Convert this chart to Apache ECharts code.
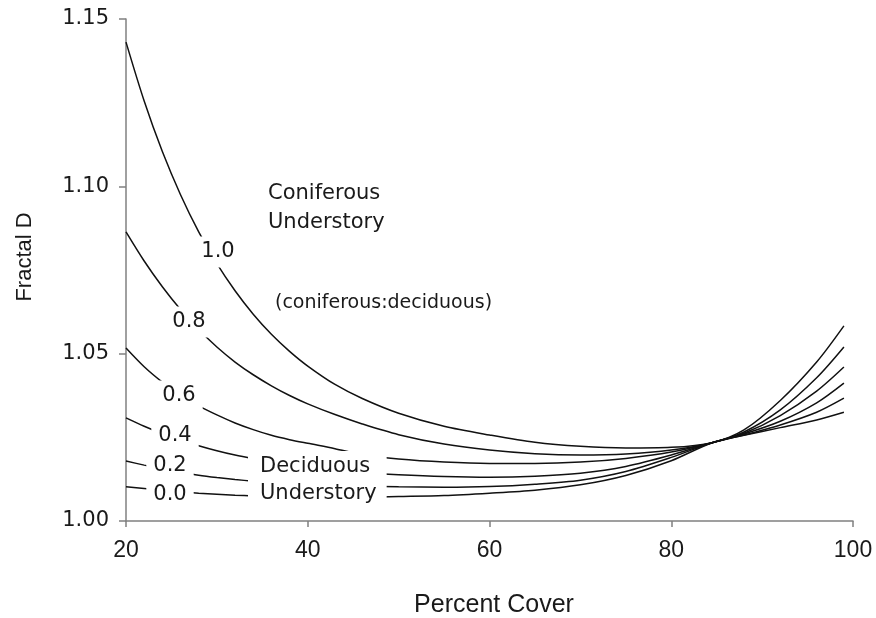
<!DOCTYPE html>
<html>
<head>
<meta charset="utf-8">
<script src="https://cdn.jsdelivr.net/npm/echarts@6/dist/echarts.min.js"></script>
<style>
html,body{margin:0;padding:0;background:#fff;}
#chart{width:876px;height:618px;}
</style>
</head>
<body>
<div id="chart"></div>
<script>
const percentCover = [20,22,24,26,28,30,32,34,36,38,40,43,46,50,55,60,65,70,75,80,84.5,88,92,96,99];
const ratio10 = [1.1431,1.1255,1.1104,1.0975,1.0864,1.0769,1.0688,1.0618,1.0558,1.0507,1.0463,1.0408,1.0366,1.0322,1.0283,1.0257,1.0235,1.0223,1.0218,1.0220,1.0234,1.0272,1.0360,1.0475,1.0583];
const ratio08 = [1.0864,1.0777,1.0700,1.0632,1.0572,1.0520,1.0475,1.0437,1.0404,1.0375,1.0350,1.0318,1.0290,1.0258,1.0230,1.0212,1.0201,1.0197,1.0200,1.0212,1.0234,1.0266,1.0332,1.0428,1.0520];
const ratio06 = [1.0517,1.0461,1.0415,1.0376,1.0344,1.0317,1.0293,1.0273,1.0256,1.0243,1.0232,1.0216,1.0198,1.0185,1.0176,1.0172,1.0172,1.0176,1.0187,1.0206,1.0234,1.0262,1.0315,1.0388,1.0460];
const ratio04 = [1.0308,1.0283,1.0261,1.0242,1.0225,1.0210,1.0197,1.0186,1.0176,1.0167,1.0160,1.0151,1.0144,1.0138,1.0133,1.0131,1.0134,1.0143,1.0163,1.0197,1.0234,1.0260,1.0298,1.0353,1.0412];
const ratio02 = [1.0179,1.0167,1.0156,1.0146,1.0137,1.0130,1.0124,1.0119,1.0115,1.0112,1.0109,1.0106,1.0104,1.0102,1.0101,1.0103,1.0110,1.0122,1.0148,1.0190,1.0234,1.0257,1.0287,1.0325,1.0367];
const ratio00 = [1.0102,1.0097,1.0092,1.0087,1.0083,1.0080,1.0077,1.0075,1.0073,1.0072,1.0071,1.0071,1.0071,1.0073,1.0076,1.0083,1.0092,1.0108,1.0136,1.0180,1.0234,1.0256,1.0279,1.0302,1.0325];
const curveNames = ['1.0','0.8','0.6','0.4','0.2','0.0'];
const curveValues = [ratio10, ratio08, ratio06, ratio04, ratio02, ratio00];
const xTicks = [20, 40, 60, 80, 100];
const yTicks = [1.00, 1.05, 1.10, 1.15];

const chart = echarts.init(document.getElementById('chart'), null, {renderer:'canvas'});
const axisColor = '#808080';
const annFont = 'DejaVu Sans, sans-serif';

function numLabel(txt, cx, cy) {
  return {
    type:'text', x:cx, y:cy, z:100,
    style:{text:txt, align:'center', verticalAlign:'middle', fill:'#1a1a1a',
      font:'21px ' + annFont, backgroundColor:'#fff', padding:[5,7]}
  };
}

chart.setOption({
  animation:false,
  backgroundColor:'#fff',
  grid:{left:126, right:23, top:19, bottom:97},
  xAxis:{
    type:'value', min:xTicks[0], max:xTicks[xTicks.length-1], interval:20,
    axisLine:{lineStyle:{color:axisColor, width:1.5}},
    axisTick:{length:6, lineStyle:{color:axisColor, width:1.5}},
    axisLabel:{fontSize:23, margin:18, color:'#1a1a1a', fontFamily:'Liberation Sans, Arial, sans-serif'},
    splitLine:{show:false}
  },
  yAxis:{
    type:'value', min:yTicks[0], max:yTicks[yTicks.length-1], interval:0.05,
    axisLine:{show:true, lineStyle:{color:axisColor, width:1.5}},
    axisTick:{show:true, length:7, lineStyle:{color:axisColor, width:1.5}},
    axisLabel:{fontSize:21, margin:17, color:'#1a1a1a', fontFamily:annFont,
      formatter:function(v){return v.toFixed(2);}},
    splitLine:{show:false}
  },
  series: curveNames.map(function(n, i){
    return {
      type:'line', name:n, showSymbol:false, smooth:0.3, z:2,
      lineStyle:{color:'#111', width:1.5},
      data: percentCover.map(function(x, j){ return [x, curveValues[i][j]]; })
    };
  }),
  graphic:[
    {type:'text', x:25, y:257, rotation:Math.PI/2, z:100,
      style:{text:'Fractal D', align:'center', verticalAlign:'middle', fill:'#1a1a1a',
        font:'22px Liberation Sans, Arial, sans-serif'}},
    {type:'text', x:494, y:605, z:100,
      style:{text:'Percent Cover', align:'center', verticalAlign:'middle', fill:'#1a1a1a',
        font:'25px Liberation Sans, Arial, sans-serif'}},
    {type:'text', x:268, y:208, z:100,
      style:{text:'Coniferous\nUnderstory', align:'left', verticalAlign:'middle', fill:'#1a1a1a',
        font:'21px ' + annFont, lineHeight:29}},
    {type:'text', x:275, y:303, z:100,
      style:{text:'(coniferous:deciduous)', align:'left', verticalAlign:'middle', fill:'#1a1a1a',
        font:'19px ' + annFont}},
    {type:'text', x:248, y:451, z:100,
      style:{text:'Deciduous\nUnderstory', align:'left', verticalAlign:'top', fill:'#1a1a1a',
        font:'21px ' + annFont, lineHeight:27, backgroundColor:'#fff', padding:[2,10,2,12]}},
    numLabel('1.0', 218, 252),
    numLabel('0.8', 189, 322),
    numLabel('0.6', 179, 396),
    numLabel('0.4', 175, 436),
    numLabel('0.2', 170, 466),
    numLabel('0.0', 170, 495)
  ]
});
</script>
</body>
</html>
